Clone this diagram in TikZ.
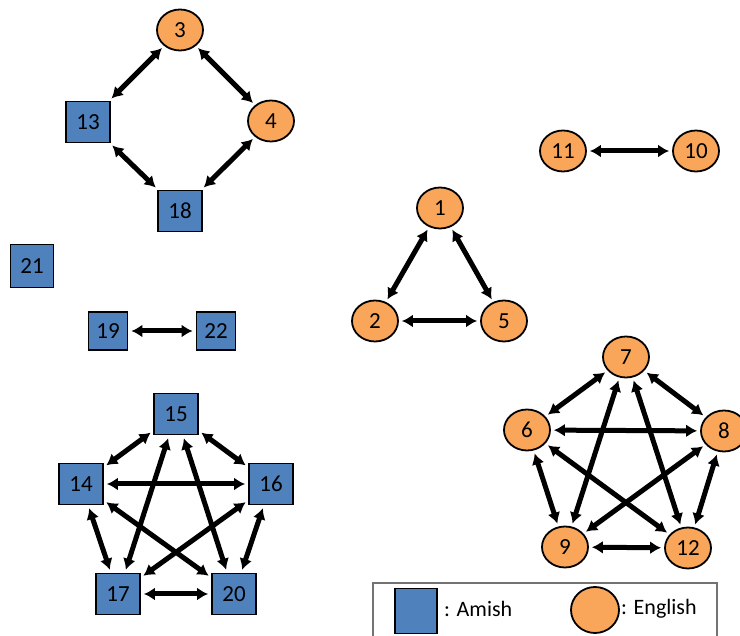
\documentclass[tikz,border=0pt]{standalone}
\usepackage{fontspec}
\setmainfont{Carlito}
\usetikzlibrary{arrows.meta,shapes.geometric}
\definecolor{amish}{HTML}{4F81BD}
\definecolor{english}{HTML}{F9A65A}
\tikzset{
  am/.style={draw=black, line width=1.8pt, fill=amish, rectangle, minimum width=44pt, minimum height=41pt, inner sep=0pt, font=\fontsize{23}{23}\selectfont},
  ams/.style={am, minimum width=39pt, minimum height=38pt},
  en/.style={draw=black, line width=1.8pt, fill=english, ellipse, minimum width=46pt, minimum height=41pt, inner sep=0pt, font=\fontsize{23}{23}\selectfont},
  link/.style={line width=5pt, {Latex[length=11pt,width=13pt]}-{Latex[length=11pt,width=13pt]}, shorten <=3pt, shorten >=3pt},
  legtext/.style={anchor=west, inner sep=0pt, font=\fontsize{22}{22}\selectfont}
}
\begin{document}
\begin{tikzpicture}[x=1pt,y=-1pt]
\clip (0,0) rectangle (740,636);
\fill[white] (0,0) rectangle (740,636);
% top-left cluster
\node[en] (n3) at (180,30) {3};
\node[en] (n4) at (271,121) {4};
\node[am] (n13) at (88,122) {13};
\node[am] (n18) at (180,211) {18};
\draw[link] (n3) -- (n13);
\draw[link] (n3) -- (n4);
\draw[link] (n13) -- (n18);
\draw[link] (n4) -- (n18);
% isolated and pair
\node[am, minimum width=43pt, minimum height=43pt] (n21) at (32,266) {21};
\node[ams] (n19) at (108,331) {19};
\node[ams] (n22) at (216,331) {22};
\draw[link] (n19) -- (n22);
% 11-10
\node[en] (n11) at (563,151) {11};
\node[en] (n10) at (696,151) {10};
\draw[link] (n11) -- (n10);
% triangle
\node[en] (n1) at (440,208) {1};
\node[en] (n2) at (375,321) {2};
\node[en] (n5) at (504,321) {5};
\draw[link] (n1) -- (n2);
\draw[link] (n1) -- (n5);
\draw[link] (n2) -- (n5);
% blue pentagon
\node[am] (n15) at (176,414) {15};
\node[am] (n14) at (81,484) {14};
\node[am] (n16) at (271,484) {16};
\node[am] (n17) at (118,594) {17};
\node[am] (n20) at (234,594) {20};
\draw[link] (n15) -- (n14);
\draw[link] (n15) -- (n16);
\draw[link] (n14) -- (n16);
\draw[link] (n14) -- (n17);
\draw[link] (n14) -- (n20);
\draw[link] (n15) -- (n17);
\draw[link] (n15) -- (n20);
\draw[link] (n16) -- (n17);
\draw[link] (n16) -- (n20);
\draw[link] (n17) -- (n20);
% orange pentagon
\node[en] (n7) at (626,357) {7};
\node[en] (n6) at (527,430) {6};
\node[en] (n8) at (724,431) {8};
\node[en] (n9) at (565,547) {9};
\node[en] (n12) at (688,548) {12};
\draw[link] (n7) -- (n6);
\draw[link] (n7) -- (n8);
\draw[link] (n6) -- (n8);
\draw[link] (n6) -- (n9);
\draw[link] (n6) -- (n12);
\draw[link] (n7) -- (n9);
\draw[link] (n7) -- (n12);
\draw[link] (n8) -- (n9);
\draw[link] (n8) -- (n12);
\draw[link] (n9) -- (n12);
% legend
\draw[draw=black!55, line width=1.4pt] (373,645) -- (373,583) -- (717,583) -- (717,645);
\node[am, minimum width=42pt, minimum height=45pt] (lega) at (416,611) {};
\node[legtext] (legat) at (444,609) {: Amish};
\node[en, minimum width=48pt, minimum height=46pt] (lege) at (595,610) {};
\node[legtext] (leget) at (621,609) {: English};
\end{tikzpicture}
\end{document}
